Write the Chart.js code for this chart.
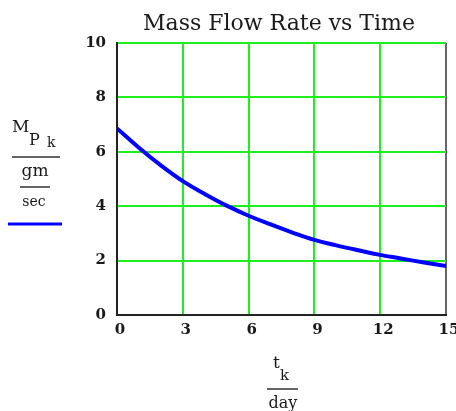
<!DOCTYPE html>
<html>
<head>
<meta charset="utf-8">
<script src="https://cdn.jsdelivr.net/npm/chart.js@4"></script>
<style>
  html, body { margin: 0; padding: 0; background: #fff; overflow: hidden; }
  #wrap { width: 456px; height: 411px; overflow: hidden; position: relative; }
  canvas { display: block; }
</style>
</head>
<body>
<div id="wrap"><canvas id="chart" width="480" height="411"></canvas></div>
<script>
// time in days and mass flow rate in gm/sec
var days = [0, 1, 2, 3, 4, 5, 6, 7, 8, 9, 10, 11, 12, 13, 14, 15];
var flowRates = [6.86, 6.15, 5.5, 4.92, 4.45, 4.02, 3.65, 3.33, 3.03, 2.76, 2.56, 2.38, 2.21, 2.07, 1.93, 1.8];
var xTicks = [0, 3, 6, 9, 12, 15];
var yTicks = [0, 2, 4, 6, 8, 10];

var serif = "'DejaVu Serif', 'Liberation Serif', serif";
var gridGreen = "#1ef01e";

// Mathcad style labels: title, stacked fraction labels and the trace key
var labelsPlugin = {
  id: "mathcadLabels",
  afterDraw: function (chart) {
    var ctx = chart.ctx;
    ctx.save();
    ctx.fillStyle = "#1a1a1a";
    ctx.textBaseline = "alphabetic";

    ctx.font = "22px " + serif;
    ctx.textAlign = "center";
    ctx.fillText("Mass Flow Rate vs Time", 279, 30);

    // y label: M_Pk / (gm / sec)
    ctx.textAlign = "left";
    ctx.font = "17px " + serif;
    ctx.fillText("M", 12, 132);
    ctx.font = "16px " + serif;
    ctx.fillText("P", 29, 145);
    ctx.font = "14px " + serif;
    ctx.fillText("k", 47, 147);

    ctx.strokeStyle = "#333";
    ctx.lineWidth = 1.5;
    ctx.beginPath();
    ctx.moveTo(12, 157); ctx.lineTo(60, 157);
    ctx.moveTo(20, 187); ctx.lineTo(50, 187);
    ctx.moveTo(267, 389); ctx.lineTo(298, 389);
    ctx.stroke();

    ctx.textAlign = "center";
    ctx.font = "17px " + serif;
    ctx.fillText("gm", 35, 176);
    ctx.font = "14px " + serif;
    ctx.fillText("sec", 34, 206);

    ctx.strokeStyle = "#0000ff";
    ctx.lineWidth = 3;
    ctx.beginPath();
    ctx.moveTo(8, 224); ctx.lineTo(62, 224);
    ctx.stroke();

    // x label: t_k / day
    ctx.textAlign = "left";
    ctx.font = "17px " + serif;
    ctx.fillText("t", 273, 368);
    ctx.font = "15px " + serif;
    ctx.fillText("k", 280, 380);
    ctx.textAlign = "center";
    ctx.font = "16px " + serif;
    ctx.fillText("day", 283, 408);
    ctx.restore();
  },
};

var config = {
  type: "line",
  data: {
    datasets: [
      {
        data: days.map(function (d, i) { return { x: d, y: flowRates[i] }; }),
        borderColor: "#0000ff",
        borderWidth: 4,
        pointRadius: 0,
        tension: 0.4,
        fill: false,
      },
    ],
  },
  options: {
    responsive: false,
    animation: false,
    layout: {
      padding: { top: 43, right: 34, bottom: 0, left: 0 },
    },
    plugins: {
      legend: { display: false },
      title: { display: false },
      tooltip: { enabled: false },
    },
    scales: {
      x: {
        type: "linear",
        min: 0,
        max: 15,
        afterBuildTicks: function (scale) {
          scale.ticks = xTicks.map(function (v) { return { value: v }; });
        },
        afterFit: function (scale) {
          scale.height = 96;
        },
        ticks: {
          labelOffset: 3,
          padding: 6,
          color: "#1a1a1a",
          font: { family: serif, size: 15, weight: "bold" },
        },
        grid: {
          drawTicks: false,
          lineWidth: 2,
          color: function (c) {
            return c.tick && c.tick.value === 15 ? "#666" : gridGreen;
          },
        },
        border: { color: "#222", width: 2 },
      },
      y: {
        min: 0,
        max: 10,
        afterBuildTicks: function (scale) {
          scale.ticks = yTicks.map(function (v) { return { value: v }; });
        },
        afterFit: function (scale) {
          scale.width = 117;
        },
        ticks: {
          padding: 11,
          color: "#1a1a1a",
          font: { family: serif, size: 15, weight: "bold" },
        },
        grid: {
          drawTicks: false,
          lineWidth: 2,
          color: gridGreen,
        },
        border: { color: "#222", width: 2 },
      },
    },
  },
  plugins: [labelsPlugin],
};

window.onload = function () {
  var ctx = document.getElementById("chart").getContext("2d");
  window.flowChart = new Chart(ctx, config);
};
</script>
</body>
</html>
